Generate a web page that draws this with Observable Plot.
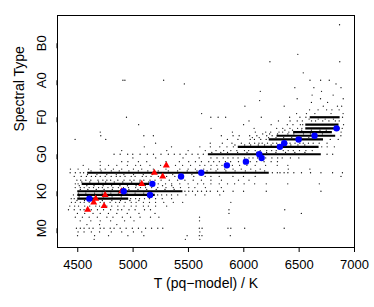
<!DOCTYPE html>
<html><head><meta charset="utf-8">
<script src="https://cdn.jsdelivr.net/npm/d3@7"></script>
<script src="https://cdn.jsdelivr.net/npm/@observablehq/plot@0.6"></script>
<style>body{margin:0;background:#fff;}</style>
</head><body><div id="chart"></div>
<script>
// Spectral type scale: M0=0, K0=10, G0=20, F0=30, A0=40, B0=50
const typeTicks = [0, 10, 20, 30, 40, 50];
const typeLabels = ["M0", "K0", "G0", "F0", "A0", "B0"];
const tempTicks = [4500, 5000, 5500, 6000, 6500, 7000];
const xTitle = "T (pq\u2212model) / K";
const yTitle = "Spectral Type";

// blue filled circles
const blueT = [4605, 4915, 5153, 5174, 5433, 5616, 5847, 6019, 6140, 6161, 6326, 6365, 6495, 6639, 6838];
const blueS = [8, 10, 9, 12, 14, 15, 17, 18, 20, 19, 22, 23, 24, 25, 27];

// red triangles
const redT = [4590, 4644, 4662, 4738, 4747, 4897, 5078, 5192, 5267, 5300];
const redS = [5, 7, 8, 6, 9, 10, 12, 15, 14, 17];

// densely populated rows (spectral level, temperature from, temperature to)
const bandS    = [15, 10, 9, 8, 12, 20, 22, 24, 25, 26, 27, 28, 30];
const bandFrom = [4590, 4500, 4500, 4500, 4540, 5680, 5950, 6230, 6300, 6450, 6560, 6560, 6600];
const bandTo   = [6230, 5450, 5200, 4960, 5150, 6700, 6680, 6720, 6830, 6800, 6870, 6860, 6870];

// individual stars per spectral level
const rowS = [55, 47, 45, 42, 40, 39, 38, 37, 36, 35, 34.5, 34, 33, 32, 31, 30, 29.5, 29, 28, 27, 26.5, 26, 25.5, 25, 24.5, 24, 23, 22.5, 22, 21, 20.5, 20, 19, 18, 17, 16, 15.5, 15, 14.5, 14, 13, 12.5, 12, 11.5, 11, 10.5, 10, 9.5, 9, 8.5, 8, 7.5, 7, 6, 5, 4, 3, 2, 1, 0, -1, -2, -3];
const rowT = [
  "6865",
  "6488",
  "6236 6867",
  "6537",
  "4908 4926 5276 6598 6694 6772",
  "5463 6833",
  "6461 6633 6878",
  "6149 6702",
  "6807 6617",
  "6693 6898 6482",
  "6143",
  "6611 6757",
  "6010 6365 6718 6846 6884",
  "6594 6671 6748 6796 6861",
  "5619 6477 6566 6642 6788 6897",
  "4940 5702 5768 5836 6158 6414 6507 6561 6892",
  "6590 6672 6735 6810",
  "6047 6313 6418 6483 6529 6612 6648 6713 6769 6827 6862",
  "5050 5998 6247 6393 6444 6511 6532 6901",
  "5704 6093 6297 6352 6417 6486 6525 6889",
  "6371 6440 6523 6611 6688 6745",
  "4703 5897 6104 6198 6243 6318 6351 6407 6879",
  "6171 6233 6305 6398 6452 6539 6602 6710",
  "4708 5097 5183 5797 5903 5958 6053 6118 6207 6256 6877",
  "6077 6139 6224 6291 6360 6433 6518 6587 6655",
  "4476 4753 5852 5947 6058 6096 6153 6202 6781 6853",
  "5203 5697 5806 5893 5978 6051 6098 6137 6166 6214 6263 6297 6342 6389 6418 6463 6506 6537 6584 6627 6681 6752",
  "5920 6008 6062 6131 6188 6247 6306 6372 6425 6489 6551",
  "5101 5347 5603 5698 5783 5848 5906 6704 6753 6818",
  "4897 5304 5497 5652 5749 5818 5883 5937 6006 6044 6103 6148 6207 6252 6293 6356 6401 6447 6503 6561 6618",
  "5711 5792 5853 5944 6029 6118 6206 6290 6377 6461 6552",
  "4828 4883 4951 4997 5063 5128 5184 5252 5318 5372 5424 5478 5533 5586 5634 6752 6803",
  "4998 5204 5451 5597 5703 5758 5814 5857 5903 5948 6006 6047 6083 6124 6198 6254 6306 6347 6421 6497",
  "4702 4897 4953 5048 5123 5297 5418 5502 5563 5617 5683 5728 5779 5834 5881 5952 6003 6058 6117 6183 6247 6304",
  "4549 4703 4778 4853 4948 5023 5067 5152 5248 5383 5447 5519 5603 5648 5704 5757 5803 5897 5962 6028 6103 6197 6302 6398",
  "4434 4503 4598 4703 4748 4822 4897 5003 5078 5183 5297 5422 5497 5563 5638 5702 5764 5828 5903 5977 6063 6148 6402 6597",
  "4620 4711 4803 4875 4962 5047 5133 5227 5318 5402 5489 5577 5668 5749 5838 5921 6014 6107 6188",
  "4431 4478 4522 4553 6258 6303 6327 6364 6398 6452 6521 6603 6697 6802 6891",
  "4588 4673 4762 4848 4917 5004 5092 5177 5263 5358 5442 5531 5613",
  "4468 4531 4578 4623 4661 4703 4748 4802 4848 4883 4927 4983 5018 5083 5118 5162 5228 5303 5377 5452 5548 5651 5703 5778 5902 5997 6103 6878",
  "4492 4527 4573 4618 4683 4727 4763 4797 4862 4918 4972 5008 5063 5097 5153 5198 5253 5327 5402 5468 5543 5617 5703 5798 5952 6047",
  "4537 4609 4688 4752 4830 4907 4987 5061 5142",
  "4478 4503 5183 5227 5293 5348 5422 5497 5583 5637 5703 5778 5853 5917 6003 6098 6203 6397 6682",
  "4514 4582 4647 4729 4806 4881 4949 5027 5110 5188 5266 5349",
  "4477 4523 4558 4603 4642 4688 4722 4773 4818 4867 4913 4958 5023 5067 5113 5168 5223 5297 5363 5428 5503 5558 5653 5797",
  "4523 4591 4667 4738 4812 4889 4962 5044 5123 5209 5288 5371",
  "5468 5503 5537 5583 5618 5663 5697 5763 5817 5903 5998 6203 6697",
  "4507 4573 4652 4721 4799 4867 4945 5018 5096",
  "4461 5222 5258 5303 5347 5403 5477 5563 5648 5783",
  "4512 4588 4667 4733 4810 4893",
  "4441 4468 4978 5023 5058 5103 5147 5203 5263 5348",
  "4493 4561 4637 4722 4808 4886 4971 5052",
  "4443 4478 4523 4558 4603 4648 4703 4738 4792 4843 4877 4928 4983 5027 5093 5148 5203 5277 5363 5448 5883",
  "4428 4472 4507 4563 4608 4663 4697 4763 4807 4862 4918 4983 5027 5093 5138 5203 5303",
  "4416 4468 4523 4557 4622 4678 4733 4797 4863 4897 4963 5018 5103 5157 5866 6370",
  "4497 4563 4638 4703 4777 4853 4947 5053 5198 5866 6520",
  "4478 4542 4603 4677 4763 4818 4903 4977 5063 5157 5233 5600",
  "4522 4618 4703 4797 4923 5008 5600",
  "4583 4697 4853",
  "4488 4523 4557 4603 4638 4703 4737 4793 4828 4883 4937 4993 5048 5113 5167 5223 5268 5598 5623 5857 5883 6008 6365",
  "4503 4557 4623 4697 4803 4897 5003 5078 5603",
  "4498 4652 4778 4953 5097 5488 5598 5622 5878",
  "4648 5472 5603"
];

const blue = blueT.map((t, i) => ({t, s: blueS[i]}));
const red = redT.map((t, i) => ({t, s: redS[i]}));
const bands = bandS.map((s, i) => ({s, from: bandFrom[i], to: bandTo[i]}));
const stars = [];
rowS.forEach((s, i) => rowT[i].split(" ").map(Number).forEach(t => stars.push({t, s})));

const chart = Plot.plot({
  width: 374, height: 307,
  marginLeft: 57, marginRight: 20, marginTop: 15, marginBottom: 60,
  style: {fontFamily: "'Liberation Sans', Arial, sans-serif", fontSize: "13px", background: "white", color: "black"},
  x: {domain: [4317, 7000]},
  y: {domain: [-5.2, 57.5]},
  marks: [
    Plot.ruleY(bands, {y: "s", x1: "from", x2: "to", stroke: "black", strokeWidth: 2.2}),
    Plot.dot(stars, {x: "t", y: "s", r: 0.65, fill: "#111"}),
    Plot.dot(red, {x: "t", y: "s", symbol: "triangle", r: 2.6, fill: "red"}),
    Plot.dot(blue, {x: "t", y: "s", r: 3.2, fill: "blue"}),
    Plot.frame({stroke: "black"}),
    Plot.axisX({ticks: tempTicks, tickFormat: d => String(d), tickSize: 5, tickPadding: 7, fontSize: 13, label: null}),
    Plot.axisY({ticks: typeTicks, tickFormat: d => typeLabels[typeTicks.indexOf(d)], tickSize: 5, tickPadding: 11,
      rotate: -90, textAnchor: "middle", lineAnchor: "middle", fontSize: 13, label: null}),
    Plot.text([xTitle], {text: d => d, frameAnchor: "bottom", dy: 36, lineAnchor: "middle", fontSize: 14}),
    Plot.text([yTitle], {text: d => d, frameAnchor: "left", dx: -38, rotate: -90, lineAnchor: "middle", fontSize: 14})
  ]
});
document.getElementById("chart").appendChild(chart);
</script>
</body></html>
